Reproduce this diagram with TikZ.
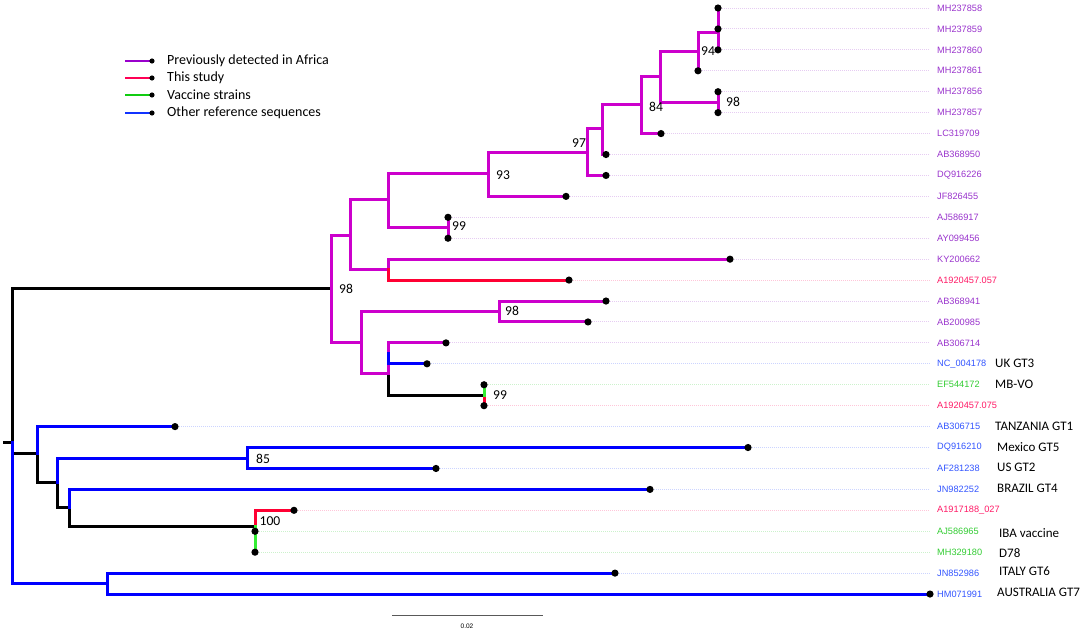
\documentclass[tikz,border=0pt]{standalone}
\usepackage{fontspec}
\setmainfont{Carlito}
\newfontfamily\tipfont{Liberation Sans}
\usetikzlibrary{positioning}

% tree colours
\definecolor{treeaf}{HTML}{CC00CC}
\definecolor{treest}{HTML}{FF0033}
\definecolor{treeva}{HTML}{33EE33}
\definecolor{treeot}{HTML}{0000FF}
% label colours
\definecolor{labaf}{HTML}{9933CC}
\definecolor{labst}{HTML}{FF1A66}
\definecolor{labva}{HTML}{33CC33}
\definecolor{labot}{HTML}{3355FF}
% key colours
\definecolor{keyaf}{HTML}{9900CC}
\definecolor{keyst}{HTML}{FF0055}
\definecolor{keyva}{HTML}{11CC11}
\definecolor{keyot}{HTML}{1133FF}

\newcommand\rowTop{8}
\newcommand\rowDist{20.93}
\newcommand\leaderEnd{930}
\newcommand\labelX{937}

\tikzset{
	branch/.style={line width=3pt, line cap=rect, line join=miter},
	leader/.style={line width=1pt, dash pattern=on 1pt off 1pt},
	tiplabel/.style={anchor=west, inner sep=0pt, font=\tipfont\fontsize{9.2}{10}\selectfont},
	support/.style={inner sep=0pt, font=\fontsize{13.6}{15}\selectfont},
	note/.style={anchor=west, inner sep=0pt, font=\fontsize{13}{15}\selectfont},
	keytext/.style={anchor=west, inner sep=0pt, font=\fontsize{14}{16}\selectfont},
}

\begin{document}
\begin{tikzpicture}[x=1pt,y=-1pt]
	\useasboundingbox (0,0) rectangle (1084,632);

	% tips, leaders and accession labels
	\foreach \i/\x/\grp/\lab in {
		1/718/af/MH237858, 2/718/af/MH237859, 3/718/af/MH237860,
		4/698/af/MH237861, 5/718/af/MH237856, 6/718/af/MH237857,
		7/661/af/LC319709, 8/606/af/AB368950, 9/606/af/DQ916226,
		10/566/af/JF826455, 11/448/af/AJ586917, 12/448/af/AY099456,
		13/730/af/KY200662, 14/569/st/A1920457.057, 15/606/af/AB368941,
		16/588/af/AB200985, 17/446/af/AB306714, 18/427/ot/NC\_004178,
		19/484/va/EF544172, 20/484/st/A1920457.075, 21/175/ot/AB306715,
		22/748/ot/DQ916210, 23/436/ot/AF281238, 24/650/ot/JN982252,
		25/294/st/A1917188\_027, 26/255/va/AJ586965, 27/255/va/MH329180,
		28/615/ot/JN852986, 29/930/ot/HM071991}{
		\coordinate (t\i) at (\x, {\rowTop+(\i-1)*\rowDist});
		\node[tiplabel, text=lab\grp] (lab\i) at (\labelX, {\rowTop+(\i-1)*\rowDist}) {\lab};
		\draw[leader, color=lab\grp!25] (t\i) -- ([xshift=-7pt]lab\i.west);
	}

	% inner nodes
	\coordinate (stub) at (4,442);
	\coordinate (root) at (12,442);
	\coordinate (nAfr) at (331,288);
	\coordinate (nA1) at (350,235);
	\coordinate (nA2) at (388,199);
	\coordinate (nA3) at (488,173);
	\coordinate (nA4) at (587,152);
	\coordinate (nA5) at (602,128);
	\coordinate (nA6) at (641,104);
	\coordinate (nA7) at (660,76);
	\coordinate (nA8) at (698,51);
	\coordinate (nA9) at (718,32);
	\coordinate (nA10) at (718,102.2);
	\coordinate (nA11) at (448,227.8);
	\coordinate (nA12) at (388,269.6);
	\coordinate (nB1) at (361,342);
	\coordinate (nB2) at (499,311.5);
	\coordinate (nB3) at (388,373);
	\coordinate (nB4) at (388,353.3);
	\coordinate (nB5) at (484,395.2);
	\coordinate (nC1) at (37,453);
	\coordinate (nC2) at (57,482);
	\coordinate (nC3) at (247,458);
	\coordinate (nC4) at (69,507);
	\coordinate (nC5) at (255,526);
	\coordinate (nC6) at (255,541.7);
	\coordinate (nD1) at (107,583.5);

	% branches
	\draw[branch, black] (stub) -- (root);
	\foreach \p/\c in {root/nAfr, root/nC1, nB3/nB5, nC1/nC2, nC2/nC4, nC4/nC5}
		\draw[branch, black] (\p) |- (\c);
	\foreach \p/\c in {nAfr/nA1, nAfr/nB1, nA1/nA2, nA1/nA12, nA2/nA3, nA2/nA11,
		nA3/nA4, nA3/t10, nA4/nA5, nA4/t9, nA5/nA6, nA5/t8, nA6/nA7, nA6/t7,
		nA7/nA8, nA7/nA10, nA8/nA9, nA8/t4, nA9/t1, nA9/t2, nA9/t3,
		nA10/t5, nA10/t6, nA11/t11, nA11/t12, nA12/t13,
		nB1/nB2, nB1/nB3, nB2/t15, nB2/t16, nB3/nB4, nB4/t17}
		\draw[branch, treeaf] (\p) |- (\c);
	\foreach \p/\c in {nA12/t14, nB5/t20, nC5/t25}
		\draw[branch, treest] (\p) |- (\c);
	\foreach \p/\c in {nB5/t19, nC5/nC6, nC6/t26, nC6/t27}
		\draw[branch, treeva] (\p) |- (\c);
	\foreach \p/\c in {root/nD1, nB4/t18, nC1/t21, nC2/nC3, nC3/t22, nC3/t23,
		nC4/t24, nD1/t28, nD1/t29}
		\draw[branch, treeot] (\p) |- (\c);

	\foreach \i in {1,...,29}
		\fill (t\i) circle (3.6pt);

	% bootstrap values
	\node[support] (bs1) at (346,289) {98};
	\node[support] (bs2) at (503,175) {93};
	\node[support] (bs3) at (579,143) {97};
	\node[support] (bs4) at (656,107) {84};
	\node[support] (bs5) at (708,51) {94};
	\node[support] (bs6) at (733,102) {98};
	\node[support] (bs7) at (459,226) {99};
	\node[support] (bs8) at (512,311) {98};
	\node[support] (bs9) at (500,395) {99};
	\node[support] (bs10) at (263,459) {85};
	\node[support] (bs11) at (270,521) {100};

	% genotype notes
	\node[note] (note18) at (995,363) {UK GT3};
	\node[note] (note19) at (995,384) {MB-VO};
	\node[note] (note21) at (995,426) {TANZANIA GT1};
	\node[note] (note22) at (997,447) {Mexico GT5};
	\node[note] (note23) at (997,467) {US GT2};
	\node[note] (note24) at (997,488) {BRAZIL GT4};
	\node[note] (note26) at (999,533) {IBA vaccine};
	\node[note] (note27) at (999,553) {D78};
	\node[note] (note28) at (999,571) {ITALY GT6};
	\node[note] (note29) at (997,592) {AUSTRALIA GT7};

	% legend
	\foreach \grp/\yy/\txt in {af/61/Previously detected in Africa, st/78/This study,
		va/95/Vaccine strains, ot/113/Other reference sequences}{
		\coordinate (key\grp) at (125,\yy);
		\coordinate (dot\grp) at (152,\yy);
		\draw[line width=2pt, color=key\grp] (key\grp) -- (dot\grp);
		\fill (dot\grp) circle (2.6pt);
		\node[keytext] (text\grp) at (167,\yy) {\txt};
	}

	% scale bar
	\coordinate (barL) at (392,615);
	\coordinate (barR) at (543,615);
	\draw[line width=1pt, black!65] (barL) -- (barR);
	\node[inner sep=0pt, font=\tipfont\fontsize{6.5}{7}\selectfont] (barlab) at (467,626) {0.02};
\end{tikzpicture}
\end{document}
